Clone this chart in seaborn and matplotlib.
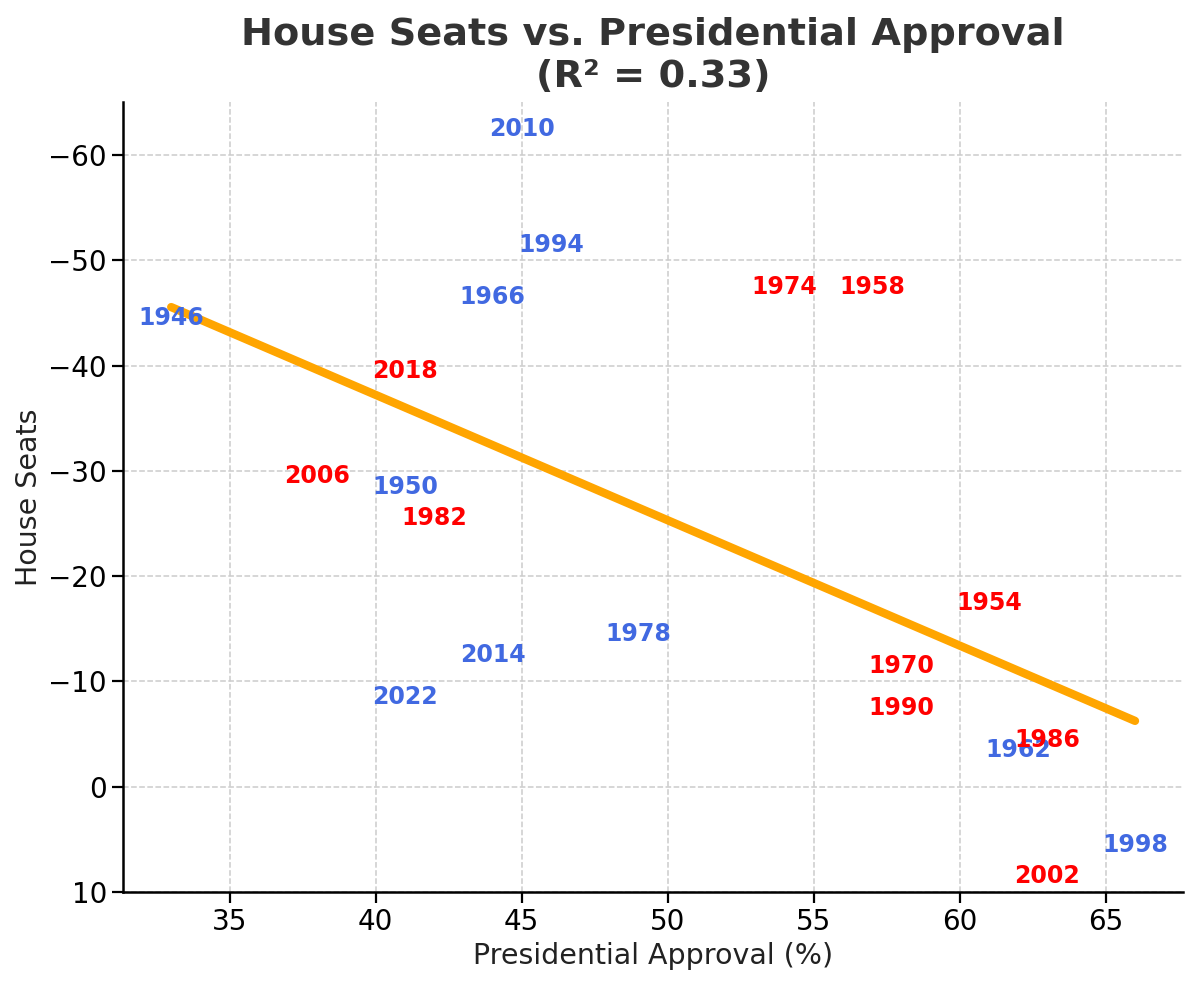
import numpy as np
import pandas as pd
import matplotlib
matplotlib.use("Agg")
import matplotlib.pyplot as plt
import matplotlib.transforms as mtransforms
import seaborn as sns

# Midterm years, presidential approval (%) and House seat change
years = ["1946", "1950", "1954", "1958", "1962", "1966", "1970", "1974", "1978", "1982",
         "1986", "1990", "1994", "1998", "2002", "2006", "2010", "2014", "2018", "2022"]
approval = [33, 41, 61, 57, 62, 44, 58, 54, 49, 42,
            63, 58, 46, 66, 63, 38, 45, 44, 41, 41]
seats = [-45, -29, -18, -48, -4, -47, -12, -48, -15, -26,
         -5, -8, -52, 5, 8, -30, -63, -13, -40, -9]
party = ["D", "D", "R", "R", "D", "D", "R", "R", "D", "R",
         "R", "R", "D", "D", "R", "R", "D", "D", "R", "D"]

df = pd.DataFrame({"year": years, "approval": approval, "seats": seats, "party": party})
party_colors = {"D": "royalblue", "R": "red"}

r2 = np.corrcoef(df["approval"], df["seats"])[0, 1] ** 2

sns.set_style("ticks", {"axes.edgecolor": "black", "xtick.color": "black",
                        "ytick.color": "black", "text.color": "black",
                        "axes.labelcolor": "black"})
fig, ax = plt.subplots(figsize=(12, 9.84), dpi=100)
fig.subplots_adjust(left=0.1025, right=0.986, bottom=0.0935, top=0.896)

# regression line over the data range
sns.regplot(data=df, x="approval", y="seats", scatter=False, ci=None, ax=ax,
            line_kws=dict(color="orange", linewidth=6, solid_capstyle="round"))

# year labels in place of markers (nudged a few pixels down like the original)
label_tf = mtransforms.offset_copy(ax.transData, fig=fig, y=-3, units="dots")
for _, row in df.iterrows():
    ax.text(row["approval"], row["seats"], row["year"], ha="center", va="center_baseline",
            color=party_colors[row["party"]], fontsize=17, fontweight="bold",
            transform=label_tf)

ax.set_xlim(31.35, 67.65)
ax.set_ylim(10, -65)
ax.set_xticks([35, 40, 45, 50, 55, 60, 65])
ax.set_yticks([-60, -50, -40, -30, -20, -10, 0, 10])
ax.grid(True, linestyle="--", color="#cccccc", linewidth=1.1)
ax.set_axisbelow(True)
sns.despine(ax=ax)
for s in ["left", "bottom"]:
    ax.spines[s].set_linewidth(1.8)
ax.tick_params(labelsize=20, length=8, width=1.6, colors="black")

ax.set_xlabel("Presidential Approval (%)", fontsize=20.5, color="#222222")
ax.set_ylabel("House Seats", fontsize=20.5, color="#222222")
ax.set_title(f"House Seats vs. Presidential Approval\n(R² = {r2:.2f})",
             fontsize=27.5, fontweight="bold", color="#333333", pad=11)

plt.savefig("out.png", dpi=100)
